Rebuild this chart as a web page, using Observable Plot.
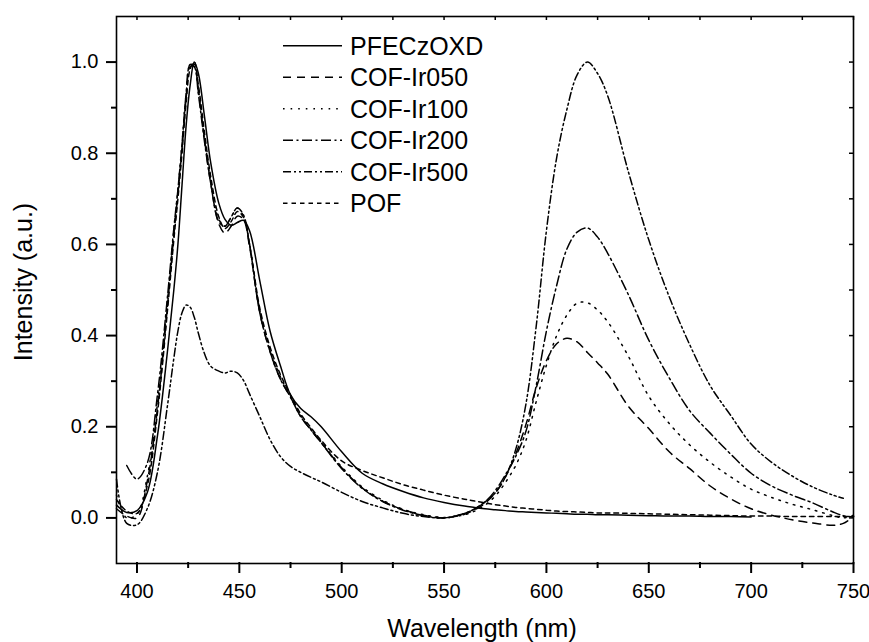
<!DOCTYPE html>
<html>
<head>
<meta charset="utf-8">
<script src="https://cdn.jsdelivr.net/npm/d3@7"></script>
<script src="https://cdn.jsdelivr.net/npm/@observablehq/plot@0.6"></script>
<style>
  body { margin: 0; background: #fff; }
  #chart { position: relative; width: 869px; height: 642px; }
</style>
</head>
<body>
<div id="chart"></div>
<script>
// ---------------- data ----------------
const wavelength = [390, 395, 400, 405, 410, 415, 418, 420, 422, 424, 426, 428, 430, 433, 436, 440, 443, 446, 449, 452,
  455, 460, 465, 470, 475, 480, 485, 490, 500, 510, 520, 530, 540, 550, 560, 565, 570, 575, 580, 585,
  590, 595, 600, 605, 610, 615, 620, 625, 630, 640, 650, 660, 670, 680, 690, 700, 710, 720, 730, 740, 745, 750];

const seriesNames = ["PFECzOXD", "COF-Ir050", "COF-Ir100", "COF-Ir200", "COF-Ir500", "POF"];

const PFECzOXD = [0.028, 0.012, 0.016, 0.055, 0.18, 0.37, 0.5, 0.6, 0.73, 0.86, 0.95, 1.0, 0.975, 0.88, 0.78, 0.69, 0.655, 0.642, 0.648, 0.653,
  0.63, 0.52, 0.41, 0.335, 0.27, 0.24, 0.222, 0.2, 0.145, 0.098, 0.075, 0.058, 0.044, 0.034, 0.026, 0.023, 0.02, 0.018, 0.016, 0.014,
  0.013, 0.012, 0.011, 0.01, 0.009, 0.008, 0.008, 0.007, 0.007, 0.006, 0.005, 0.004, 0.004, 0.003, 0.003, 0.002, null, null, null, null, null, null];

const COF_Ir050 = [0.02, 0.004, 0.0, 0.08, 0.24, 0.47, 0.62, 0.71, 0.81, 0.92, 0.99, 0.99, 0.935, 0.83, 0.735, 0.645, 0.625, 0.64, 0.662, 0.655,
  0.595, 0.45, 0.365, 0.305, 0.265, 0.222, 0.193, 0.165, 0.11, 0.066, 0.037, 0.018, 0.006, 0.0, 0.008, 0.018, 0.032, 0.055, 0.09, 0.14,
  0.205, 0.285, 0.345, 0.382, 0.394, 0.386, 0.363, 0.34, 0.315, 0.245, 0.196, 0.145, 0.108, 0.07, 0.042, 0.02, 0.006, -0.004, -0.011, -0.016, -0.012, 0.003];

const COF_Ir100 = [0.05, 0.0, 0.008, 0.09, 0.25, 0.48, 0.63, 0.72, 0.82, 0.93, 0.995, 0.995, 0.94, 0.835, 0.74, 0.655, 0.64, 0.66, 0.68, 0.662,
  0.6, 0.455, 0.37, 0.31, 0.268, 0.225, 0.195, 0.167, 0.112, 0.068, 0.039, 0.019, 0.007, 0.001, 0.007, 0.015, 0.028, 0.048, 0.078, 0.115,
  0.17, 0.255, 0.335, 0.4, 0.445, 0.471, 0.472, 0.456, 0.43, 0.355, 0.267, 0.207, 0.16, 0.122, 0.09, 0.063, 0.045, 0.03, 0.018, 0.005, 0.0, 0.006];

const COF_Ir200 = [null, 0.115, 0.085, 0.12, 0.27, 0.49, 0.635, 0.72, 0.82, 0.93, 0.995, 0.99, 0.93, 0.825, 0.735, 0.65, 0.64, 0.66, 0.68, 0.665,
  0.6, 0.45, 0.365, 0.305, 0.265, 0.222, 0.193, 0.165, 0.108, 0.065, 0.036, 0.017, 0.005, 0.0, 0.01, 0.02, 0.035, 0.06, 0.095, 0.135,
  0.19, 0.29, 0.41, 0.51, 0.59, 0.627, 0.636, 0.616, 0.58, 0.49, 0.39, 0.307, 0.235, 0.186, 0.14, 0.098, 0.07, 0.05, 0.033, 0.013, 0.005, 0.002];

const COF_Ir500 = [0.085, -0.012, -0.015, 0.02, 0.1, 0.25, 0.35, 0.41, 0.45, 0.467, 0.462, 0.44, 0.405, 0.36, 0.333, 0.322, 0.318, 0.322, 0.318, 0.302,
  0.272, 0.222, 0.172, 0.135, 0.113, 0.1, 0.089, 0.079, 0.056, 0.036, 0.022, 0.01, 0.003, 0.0, 0.01, 0.02, 0.035, 0.055, 0.09, 0.15,
  0.25, 0.42, 0.63, 0.79, 0.896, 0.972, 1.0, 0.975, 0.925, 0.76, 0.61, 0.485, 0.38, 0.29, 0.225, 0.162, 0.122, 0.092, 0.068, 0.05, 0.043, null];

const POF = [0.04, 0.015, 0.01, 0.07, 0.23, 0.46, 0.61, 0.7, 0.8, 0.91, 0.985, 1.0, 0.95, 0.845, 0.75, 0.66, 0.635, 0.65, 0.672, 0.66,
  0.6, 0.46, 0.375, 0.315, 0.27, 0.228, 0.198, 0.17, 0.125, 0.104, 0.088, 0.073, 0.061, 0.05, 0.041, 0.037, 0.033, 0.029, 0.026, 0.023,
  0.021, 0.019, 0.017, 0.015, 0.014, 0.013, 0.012, 0.011, 0.011, 0.01, 0.009, 0.008, 0.007, 0.006, 0.005, 0.004, 0.004, 0.003, 0.003, 0.003, 0.003, 0.003];

const xMajorTicks = [400, 450, 500, 550, 600, 650, 700, 750];
const xMinorTicks = [425, 475, 525, 575, 625, 675, 725];
const yMajorTicks = [0.0, 0.2, 0.4, 0.6, 0.8, 1.0];
const yMinorTicks = [0.1, 0.3, 0.5, 0.7, 0.9];
const xTitle = "Wavelength (nm)";
const yTitle = "Intensity (a.u.)";

// ---------------- styles / layout ----------------
const seriesValues = [PFECzOXD, COF_Ir050, COF_Ir100, COF_Ir200, COF_Ir500, POF];
const dashStyles = [null, "8,6", "1.6,6", "10,3.5,2,3.5", "8,3,2,3,2,3", "4.5,4"];

const W = 869, H = 642;
const M = {top: 16, right: 16, bottom: 79, left: 116};
const frameW = W - M.left - M.right;
const frameH = H - M.top - M.bottom;

const lineMarks = seriesNames.map((name, si) => {
  const vals = seriesValues[si];
  const pts = wavelength.map((w, i) => ({w, v: vals[i]})).filter(d => d.v !== null);
  const opts = {x: "w", y: "v", stroke: "black", strokeWidth: 1.5, curve: "catmull-rom"};
  if (dashStyles[si]) opts.strokeDasharray = dashStyles[si];
  return Plot.line(pts, opts);
});

const allX = [...xMajorTicks, ...xMinorTicks];
const allY = [...yMajorTicks, ...yMinorTicks];
const tickColor = "#000";

const plot = Plot.plot({
  width: W, height: H,
  marginTop: M.top, marginRight: M.right, marginBottom: M.bottom, marginLeft: M.left,
  x: {domain: [390, 750]},
  y: {domain: [-0.1, 1.1]},
  style: {fontFamily: '"Liberation Sans", Arial, Helvetica, sans-serif'},
  marks: [
    ...lineMarks,
    Plot.axisX(xMajorTicks, {anchor: "bottom", tickSize: 0, tickPadding: 20, fontSize: 20, label: null, tickFormat: d => String(d)}),
    Plot.axisY(yMajorTicks, {anchor: "left", tickSize: 0, tickPadding: 18, fontSize: 20, label: null, tickFormat: d3.format(".1f")}),
    // ticks: rules extending out of the frame (longer overlap into frame edge for robustness)
    Plot.ruleX(xMajorTicks, {insetTop: frameH - 1, insetBottom: -10, stroke: tickColor, strokeWidth: 2}),
    Plot.ruleX(xMinorTicks, {insetTop: frameH - 1, insetBottom: -5, stroke: tickColor, strokeWidth: 2}),
    Plot.ruleX(allX, {insetBottom: frameH - 4, stroke: tickColor, strokeWidth: 1.5}),
    Plot.ruleY(yMajorTicks, {insetRight: frameW - 1, insetLeft: -10, stroke: tickColor, strokeWidth: 2}),
    Plot.ruleY(yMinorTicks, {insetRight: frameW - 1, insetLeft: -5, stroke: tickColor, strokeWidth: 2}),
    Plot.ruleY(allY, {insetLeft: frameW - 4, stroke: tickColor, strokeWidth: 1.5}),
    Plot.frame({stroke: "black", strokeWidth: 1.6}),
    Plot.text([xTitle], {text: d => d, frameAnchor: "bottom", textAnchor: "middle", lineAnchor: "middle", dx: -3, dy: 65, fontSize: 25, fill: "black"}),
    Plot.text([yTitle], {text: d => d, frameAnchor: "left", textAnchor: "middle", lineAnchor: "middle", dx: -93, dy: -8, rotate: -90, fontSize: 25, fill: "black"})
  ]
});

document.getElementById("chart").appendChild(plot);

// legend (inside plot area, top-left)
const svg = d3.select(plot);
const lg = svg.append("g").attr("class", "legend");
seriesNames.forEach((name, i) => {
  const y = 45.7 + i * 31.5;
  const ln = lg.append("line")
    .attr("x1", 283).attr("x2", 342).attr("y1", y).attr("y2", y)
    .attr("stroke", "black").attr("stroke-width", 1.6);
  if (dashStyles[i]) ln.attr("stroke-dasharray", dashStyles[i]);
  lg.append("text")
    .attr("x", 350).attr("y", y).attr("dy", "0.36em")
    .attr("text-anchor", "start")
    .attr("font-size", 25).attr("fill", "black")
    .text(name);
});
</script>
</body>
</html>
